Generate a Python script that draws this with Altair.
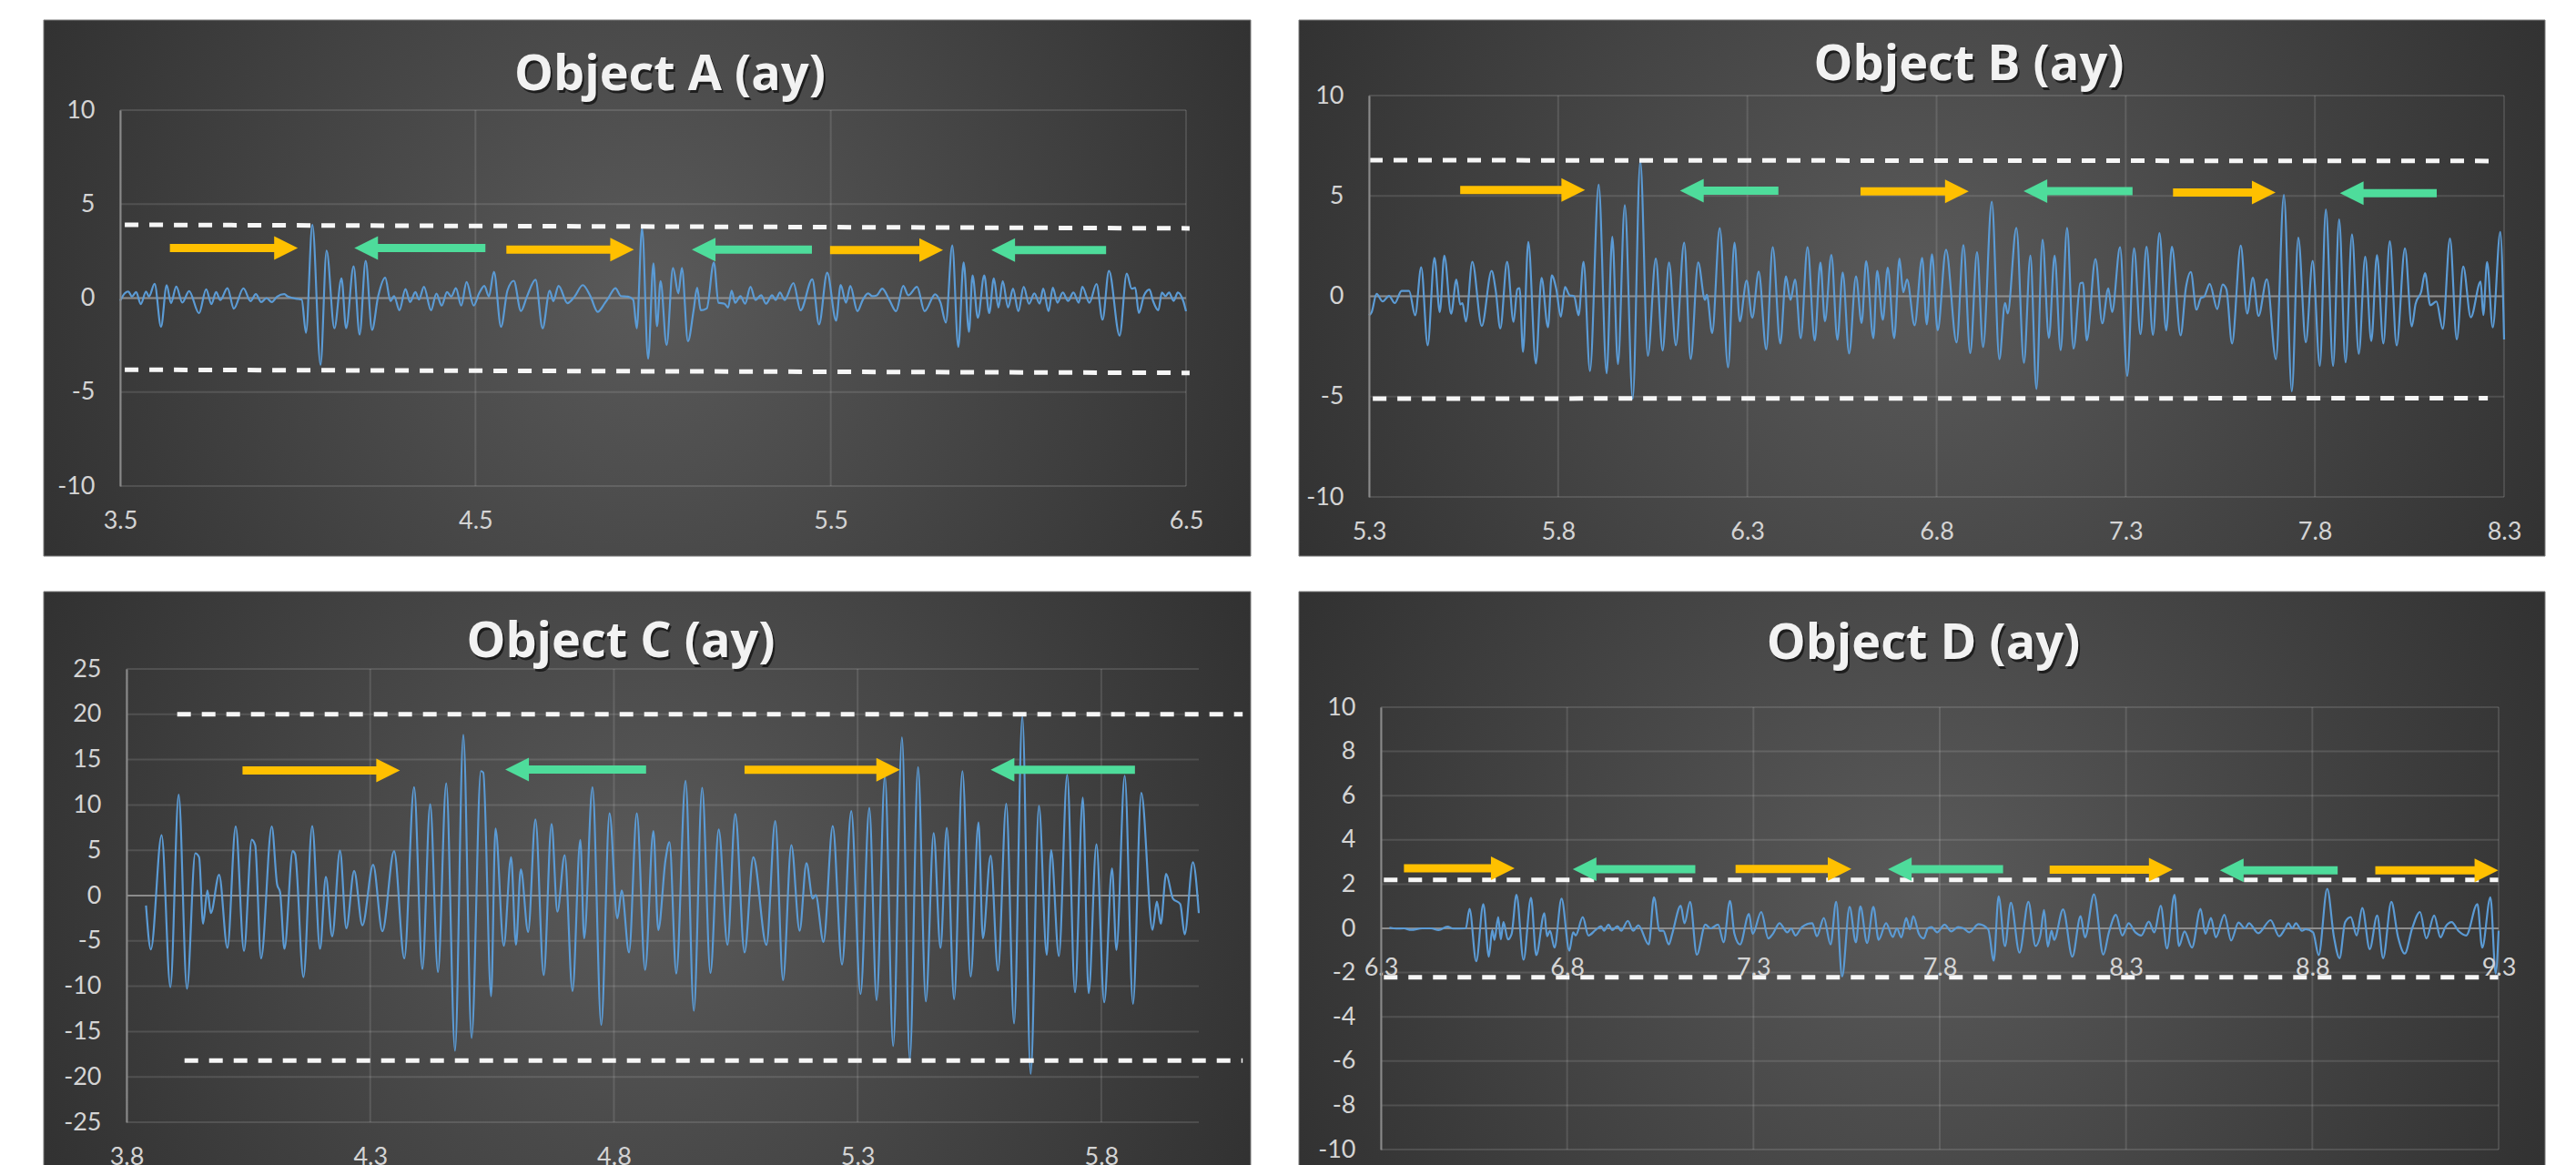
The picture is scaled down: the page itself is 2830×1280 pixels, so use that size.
import altair as alt
import pandas as pd

# ---------------- Object A ----------------
a_t = [3.500,3.513,3.523,3.533,3.545,3.558,3.573,3.581,3.597,3.615,
       3.631,3.643,3.658,3.675,3.694,3.722,3.742,3.757,3.770,3.782,
       3.802,3.820,3.847,3.867,3.882,3.897,3.912,3.927,3.942,3.962,
       3.972,4.001,4.011,4.023,4.041,4.064,4.081,4.103,4.123,4.136,
       4.157,4.174,4.191,4.209,4.226,4.246,4.261,4.271,4.286,4.303,
       4.316,4.331,4.341,4.355,4.375,4.390,4.405,4.420,4.432,4.445,
       4.460,4.475,4.495,4.510,4.525,4.538,4.552,4.572,4.590,4.608,
       4.628,4.645,4.669,4.689,4.709,4.719,4.734,4.759,4.779,4.802,
       4.824,4.844,4.864,4.874,4.894,4.909,4.929,4.944,4.954,4.969,
       4.986,5.001,5.011,
       5.021,5.038,5.056,5.071,5.081,5.098,5.114,5.124,5.134,5.151,
       5.171,5.184,5.201,5.211,5.221,5.231,5.246,5.259,5.274,5.288,
       5.304,5.318,5.335,5.345,5.357,5.370,5.395,5.415,5.448,5.467,
       5.490,5.515,5.528,5.543,5.555,5.575,5.590,5.605,5.617,5.630,
       5.645,5.665,5.684,5.704,5.718,5.743,5.764,5.794,5.809,5.824,
       5.842,5.859,5.874,5.889,5.899,5.914,5.932,5.946,5.959,5.972,
       5.984,5.999,6.013,6.028,6.043,6.058,6.073,6.088,6.098,6.113,
       6.125,6.138,6.153,6.168,6.183,6.198,6.208,6.228,6.248,6.265,
       6.283,6.313,6.333,6.347,6.357,6.367,6.382,6.397,6.407,6.422,
       6.432,6.442,6.452,6.465,6.477,6.492,6.500]
a_ay = [-0.15,0.25,0.35,0.08,0.32,-0.32,0.35,0.08,0.76,-1.53,
        0.69,-0.27,0.61,-0.24,0.37,-0.81,0.47,-0.32,0.32,-0.11,
        0.53,-0.56,0.52,-0.16,0.21,-0.21,0,-0.21,0.08,0.21,
        0.08,-0.05,-0.08,-1.85,3.9,-3.55,2.53,-1.61,1.05,-1.61,
        1.69,-1.94,1.98,-1.69,0.08,1.08,-0.16,0.11,-0.65,0.48,
        -0.21,0.32,-0.08,0.6,-0.65,0.24,-0.4,0.32,0.08,0.53,
        -0.4,0.85,-0.4,0.24,0.65,0.08,1.4,-1.53,0.4,0.92,
        -0.69,0.08,0.97,-1.61,0.4,-0.16,0.65,-0.27,0.08,0.69,
        0.08,-0.73,-0.27,0,0.53,0.11,0.08,-0.08,-1.61,3.71,
        -3.23,1.85,-1.5,
        0.9,-2.5,1.6,0.25,1.6,-2.3,-0.65,0.55,-0.65,-0.55,
        1.9,-0.25,-0.3,-0.5,0.4,-0.25,0.1,-0.3,0.6,-0.1,
        0.15,-0.3,0.15,-0.1,0.3,-0.1,0.8,-0.65,1.0,-1.4,
        1.35,-1.2,0.7,-0.25,0.65,-0.7,-0.1,0.25,0.1,0.15,
        0.5,-0.1,-0.7,0.65,0.15,0.6,-0.7,0.2,-0.25,-1.3,
        2.8,-2.6,1.9,-1.8,1.2,-1.05,1.2,-0.8,1.05,-0.5,
        0.9,-0.5,0.5,-0.7,0.6,-0.3,0.25,-0.3,0.5,-0.7,
        0.55,-0.25,0.3,-0.15,0.3,-0.25,0.6,-0.25,0.75,-1.15,
        1.45,-2.0,1.3,0.5,0.55,-0.8,0.15,0.45,-0.15,-0.65,
        0.3,0.1,0.3,-0.15,0.3,-0.15,-0.7]
a_dash_x1 = [3.513, 3.513]
a_dash_x2 = [6.51, 6.51]
a_dash_y1 = [3.9, -3.81]
a_dash_y2 = [3.71, -3.98]
a_right_tail = [3.64, 4.587, 5.498]
a_right_tip = [4.0, 4.946, 5.816]
a_right_y = [2.66, 2.58, 2.55]
a_left_tail = [4.528, 5.447, 6.275]
a_left_tip = [4.159, 5.109, 5.952]
a_left_y = [2.66, 2.58, 2.55]

# ---------------- Object B ----------------
b_t = [5.300,5.307,5.320,5.336,5.353,5.368,5.386,5.406,5.422,5.438,
       5.455,5.473,5.487,5.499,5.517,5.531,5.541,5.547,5.556,5.573,
       5.598,5.624,5.635,5.647,5.665,5.682,5.692,5.698,5.707,5.721,
       5.741,5.756,5.773,5.783,5.795,5.807,5.818,5.830,5.842,5.854,
       5.867,5.884,5.907,5.928,5.943,5.958,5.976,5.997,6.017,6.037,
       6.058,6.076,6.093,6.111,6.133,6.150,6.170,6.188,6.193,6.207,
       6.227,6.249,6.266,6.280,6.298,6.313,6.330,6.350,6.367,6.387,
       6.402,6.414,6.426,6.441,6.459,6.478,6.493,6.505,6.522,6.538,
       6.552,6.569,6.587,6.602,6.614,6.633,6.643,6.658,6.671,6.688,
       6.702,6.712,6.722,6.742,6.762,6.774,
       6.788,6.803,6.825,6.853,6.871,6.889,6.907,6.923,6.946,6.966,
       6.981,6.988,7.011,7.031,7.048,7.064,7.080,7.097,7.112,7.128,
       7.145,7.162,7.180,7.187,7.197,7.220,7.238,7.254,7.264,7.285,
       7.304,7.322,7.339,7.355,7.372,7.389,7.407,7.422,7.445,7.459,
       7.472,7.487,7.499,7.507,7.522,7.542,7.556,7.566,7.581,7.604,
       7.621,7.636,7.651,7.673,7.697,7.718,7.739,7.756,7.776,7.794,
       7.813,7.829,7.848,7.864,7.881,7.898,7.916,7.933,7.949,7.964,
       7.981,7.998,8.016,8.038,8.056,8.066,8.081,8.091,8.105,8.121,
       8.138,8.157,8.175,8.192,8.212,8.238,8.245,8.255,8.270,8.290,
       8.300]
b_ay = [-0.95,-0.79,0.12,-0.26,0.02,-0.34,0.27,0.27,-0.95,1.45,
        -2.44,1.91,-0.79,2.03,-0.87,0.84,-0.41,-0.34,-1.25,1.72,
        -1.48,1.27,0.27,-1.6,1.72,-1.28,0.35,0.4,-2.77,2.71,
        -3.35,0.91,-1.55,1.04,0.35,-1.02,0.46,0.05,0,-0.95,
        1.72,-3.73,5.56,-3.84,2.97,-3.38,4.54,-5.11,6.75,-2.97,
        1.88,-2.7,1.69,-2.44,2.67,-3.13,1.69,-0.18,0.08,-1.83,
        3.4,-3.54,2.67,-1.25,0.78,-1.07,1.23,-2.65,2.45,-2.35,
        0.99,-0.18,0.84,-2.09,2.45,-2.21,1.69,-1.25,2.06,-2.16,
        1.19,-2.85,0.99,-1.33,1.75,-2.09,1.27,-1.17,1.42,-2.09,
        1.88,0.2,0.84,-1.45,1.91,-1.4,
        2.09,-1.7,2.32,-2.3,2.55,-2.83,2.2,-2.53,4.71,-3.14,
        -0.33,-0.86,3.41,-3.32,2.02,-4.62,2.82,-2.08,2.02,-2.68,
        3.41,-2.61,0.65,0.68,-2.2,1.86,-1.35,0.39,-0.79,2.44,
        -3.97,2.39,-1.89,2.47,-1.92,3.15,-1.7,2.47,-1.95,0.42,
        1.21,-0.67,-0.08,-0.03,0.62,-0.64,0.58,0.35,-2.35,2.52,
        -0.86,0.92,-0.98,0.85,-3.14,5.05,-4.73,2.92,-2.3,1.76,
        -3.47,4.33,-3.47,3.83,-3.29,3.08,-2.86,1.97,-2.23,2.05,
        -2.35,2.74,-2.45,2.39,-1.5,-0.38,0.23,1.15,-0.45,-0.26,
        -1.62,2.88,-2.15,1.48,-1.05,0.73,-0.94,1.71,-1.55,3.2,
        -2.15]
b_dash_x1 = [5.30, 5.31]
b_dash_x2 = [8.278, 8.257]
b_dash_y1 = [6.78, -5.1]
b_dash_y2 = [6.74, -5.08]
b_right_tail = [5.541, 6.599, 7.425]
b_right_tip = [5.871, 6.885, 7.696]
b_right_y = [5.3, 5.23, 5.17]
b_left_tail = [6.382, 7.318, 8.122]
b_left_tip = [6.122, 7.030, 7.866]
b_left_y = [5.26, 5.24, 5.14]

# ---------------- Object C ----------------
c_t = [3.840,3.850,3.872,3.890,3.907,3.924,3.941,3.949,3.957,3.966,
       3.973,3.990,4.007,4.024,4.041,4.057,4.064,4.076,4.098,4.109,
       4.115,4.124,4.141,4.146,4.163,4.181,4.197,4.209,4.222,4.238,
       4.251,4.267,4.284,4.306,4.325,4.349,4.370,4.390,4.407,4.423,
       4.439,4.456,4.474,4.491,4.508,4.527,4.532,4.548,4.557,4.574,
       4.589,4.599,4.609,4.624,4.639,4.656,4.672,4.684,4.699,4.715,
       4.731,4.739,4.756,4.774,4.791,4.807,4.816,4.831,4.847,4.864,
       4.881,4.891,
       4.906,4.914,4.928,4.947,4.964,4.981,4.998,5.015,5.033,5.049,
       5.068,5.086,5.113,5.131,5.147,5.164,5.181,5.195,5.208,5.214,
       5.230,5.249,5.268,5.287,5.306,5.324,5.339,5.356,5.373,5.391,
       5.407,5.424,5.440,5.456,5.470,5.483,5.498,5.515,5.532,5.548,
       5.557,5.573,5.588,5.605,5.621,5.638,5.655,5.672,5.688,5.697,
       5.713,5.730,5.746,5.762,5.774,5.790,5.806,5.822,5.831,5.848,
       5.865,5.882,5.905,5.914,5.922,5.933,5.947,5.962,5.971,5.988,
       6.000]
c_ay = [-1.1,-5.93,6.67,-10.1,11.13,-10.27,4.67,4.23,-3.1,0.57,
        -1.93,2.3,-5.77,7.63,-6.1,6.17,5.57,-6.93,7.63,1.23,
        0.4,-5.87,4.9,4.57,-9.0,7.67,-5.87,2.07,-4.5,4.97,
        -3.6,2.73,-3.27,3.4,-3.93,4.9,-6.93,11.97,-8.1,10.07,
        -8.43,12.4,-17.1,17.73,-15.7,13.73,13.57,-11.1,7.4,-5.53,
        4.23,-5.43,2.9,-4.0,8.4,-8.77,7.9,-1.77,4.47,-10.53,
        6.13,-4.7,11.97,-14.27,9.07,-2.5,0.57,-6.27,9.07,-8.2,
        7.13,-3.8,
        4.0,5.9,-8.6,12.67,-12.7,11.9,-8.53,7.3,-5.43,9.0,
        -6.27,4.23,-5.43,8.23,-9.33,5.57,-3.87,3.57,-0.33,0.07,
        -5.1,7.67,-7.6,9.33,-10.87,9.67,-11.53,13.23,-16.6,17.47,
        -18.1,14.17,-11.67,6.9,-5.77,7.47,-11.43,13.73,-8.93,8.07,
        -4.7,4.4,-8.27,10.13,-14.1,19.8,-19.67,9.9,-6.53,5.0,
        -6.67,13.33,-10.67,10.8,-10.77,5.67,-11.77,3.0,-6.0,13.23,
        -11.93,11.33,-3.77,-0.67,-3.1,2.4,-0.33,-0.93,-4.27,3.67,
        -1.93]
c_dash_x1 = [3.904, 3.919]
c_dash_x2 = [6.09, 6.09]
c_dash_y1 = [20.0, -18.2]
c_dash_y2 = [20.0, -18.2]
c_right_tail = [4.038, 5.068]
c_right_tip = [4.361, 5.387]
c_right_y = [13.8, 13.87]
c_left_tail = [4.866, 5.869]
c_left_tip = [4.577, 5.573]
c_left_y = [13.9, 13.87]

# ---------------- Object D ----------------
d_t = [6.323,6.342,6.362,6.381,6.411,6.435,6.455,6.479,6.494,6.528,
       6.538,6.556,6.575,6.590,6.599,6.605,6.615,6.622,6.629,6.641,
       6.651,6.664,6.683,6.703,6.717,6.739,6.746,6.754,6.766,6.785,
       6.806,6.816,6.823,6.842,6.857,6.876,6.891,6.899,6.911,6.921,
       6.935,6.945,6.963,6.977,6.991,7.019,7.033,7.048,7.058,7.073,
       7.082,7.105,7.115,7.130,7.148,7.171,7.185,7.205,7.220,7.237,
       7.249,7.264,7.288,7.298,7.321,7.340,7.352,7.370,7.391,7.401,
       7.413,7.430,7.458,7.470,7.489,7.507,7.522,7.538,7.558,7.575,
       7.587,7.605,7.622,7.636,7.656,7.674,7.685,7.697,7.710,7.720,
       7.729,7.744,
       7.757,7.768,7.778,7.793,7.813,7.831,7.849,7.864,7.879,7.904,
       7.930,7.945,7.958,7.975,7.991,8.014,8.038,8.057,8.070,8.080,
       8.090,8.100,8.107,8.131,8.156,8.178,8.190,8.214,8.239,8.254,
       8.273,8.290,8.307,8.325,8.341,8.361,8.376,8.393,8.410,8.430,
       8.442,8.457,8.477,8.500,8.513,8.528,8.541,8.564,8.582,8.602,
       8.619,8.630,8.655,8.688,8.711,8.726,8.736,8.746,8.756,8.772,
       8.782,8.802,8.817,8.840,8.858,8.873,8.888,8.903,8.919,8.934,
       8.954,8.974,8.990,9.012,9.030,9.048,9.068,9.089,9.106,9.127,
       9.144,9.157,9.174,9.192,9.213,9.243,9.256,9.278,9.292,9.300]
d_ay = [0.03,-0.01,0,-0.07,0,0,-0.08,0.08,-0.01,0,
        0.88,-1.49,1.1,-1.28,-0.08,-0.52,0.51,-0.5,0.28,-0.5,
        -0.25,1.52,-1.42,1.38,-1.21,0.69,-0.36,-0.11,-0.87,1.34,
        -1.01,-0.18,-0.32,0.51,-0.32,-0.08,0.1,-0.11,0.17,-0.08,
        0.1,-0.11,0.34,-0.11,0.14,-0.73,1.41,-0.11,-0.11,-0.73,
        -0.25,1.02,0.23,1.2,-1.19,0.17,0,0.17,-0.63,1.24,
        -0.25,-0.73,0.65,-0.25,0.74,-0.46,-0.25,0.23,-0.18,-0.01,
        -0.32,0.06,0.23,-0.36,0.47,-0.73,1.2,-2.18,0.97,-0.63,
        0.99,-0.66,0.97,-0.52,0.23,-0.39,0,-0.41,0.47,-0.04,
        0.55,-0.25,
        -0.46,0,0.06,-0.18,0.17,-0.14,0.06,0,-0.18,0.19,
        -0.04,-1.46,1.45,-0.8,1.16,-1.1,1.2,-0.8,-0.32,0.83,
        -0.83,-0.11,-0.52,0.86,-1.28,0.55,-0.41,1.54,-1.19,-0.18,
        0.61,-0.32,0.23,-0.18,-0.32,0.3,-0.18,1.02,-0.91,1.52,
        -0.8,-0.14,-0.87,0.88,-0.25,0.47,-0.41,0.61,-0.55,0.26,
        0,0.23,-0.22,0.37,-0.36,-0.04,0.23,0,0.23,-0.11,
        -0.04,-0.18,-1.21,1.79,-0.39,-1.35,0.28,0.51,-0.32,0.92,
        -0.94,0.58,-1.35,1.2,-0.39,-1.14,0,0.74,-0.46,0.58,
        -0.41,0.06,0.28,-0.11,-0.32,1.1,-0.87,1.41,-2.04,-0.11]
d_dash_x1 = [6.308, 6.308]
d_dash_x2 = [9.299, 9.299]
d_dash_y1 = [2.19, -2.21]
d_dash_y2 = [2.19, -2.21]
d_right_tail = [6.362, 7.252, 8.095, 8.969]
d_right_tip = [6.659, 7.563, 8.425, 9.299]
d_right_y = [2.72, 2.69, 2.65, 2.62]
d_left_tail = [7.144, 7.970, 8.868]
d_left_tip = [6.815, 7.661, 8.552]
d_left_y = [2.68, 2.68, 2.62]

# axis ticks
a_xticks = [3.5, 4.5, 5.5, 6.5]
b_xticks = [5.3, 5.8, 6.3, 6.8, 7.3, 7.8, 8.3]
c_xticks = [3.8, 4.3, 4.8, 5.3, 5.8]
d_xticks = [6.3, 6.8, 7.3, 7.8, 8.3, 8.8, 9.3]
ab_yticks = [-10, -5, 0, 5, 10]
c_yticks = [-25, -20, -15, -10, -5, 0, 5, 10, 15, 20, 25]
d_yticks = [-10, -8, -6, -4, -2, 0, 2, 4, 6, 8, 10]

LINE_BLUE = "#5B9BD5"
YELLOW = "#FFC000"
GREEN = "#4EDC9B"
LABEL = "#d4d4d4"
FONT = "Lato"
TITLE_FONT = "Open Sans"
LABEL_SIZE = 27

GRAD = alt.RadialGradient(
    gradient="radial", x1=0.5, y1=0.5, r1=0, x2=0.5, y2=0.5, r2=0.72,
    stops=[alt.GradientStop(color="#5a5a5a", offset=0),
           alt.GradientStop(color="#252525", offset=1)])

# every panel's group origin sits this far inside its dark box, so the
# concat layout lines the boxes up; the plot area is placed with scale ranges
OL, OT = 90, 100


def panel(title, t, ay, xdom, ydom, xticks, yticks, dash, right, left,
          box, plot, tpos, x_at_zero=False):
    ox, oy = box[0] + OL, box[1] + OT
    xr = [plot[0] - ox, plot[2] - ox]
    yr = [plot[3] - oy, plot[1] - oy]
    W, H = xr[1], yr[0]
    if x_at_zero:
        y0 = yr[0] + (yr[1] - yr[0]) * (0 - ydom[0]) / (ydom[1] - ydom[0])
        xoff = y0 - H
    else:
        xoff = 0
    xs = alt.Scale(domain=xdom, range=xr, nice=False, zero=False)
    ys = alt.Scale(domain=ydom, range=yr, nice=False, zero=False)
    xa = alt.Axis(values=xticks, title=None, grid=False, domain=False, ticks=False,
                  tickSize=0, labelExpr="'' + datum.value", labelFont=FONT,
                  labelFontSize=LABEL_SIZE, labelColor=LABEL, labelFlush=False,
                  labelOverlap=False, labelPadding=30 if x_at_zero else 25,
                  offset=xoff, zindex=1)
    ya = alt.Axis(values=yticks, title=None, grid=False, domain=True,
                  domainColor="#8a8a8a", domainWidth=2, ticks=False, tickSize=0,
                  labelExpr="'' + datum.value", labelFont=FONT,
                  labelFontSize=LABEL_SIZE, labelColor=LABEL, labelPadding=28,
                  labelOverlap=False, offset=-xr[0], zindex=1)

    def X(f):
        return alt.X(f, scale=xs, axis=xa)

    def Y(f):
        return alt.Y(f, scale=ys, axis=ya)

    one = pd.DataFrame({"k": [0]})
    bg = alt.Chart(one).mark_rect(fill=GRAD, stroke="#7a7a7a", strokeWidth=1).encode(
        x=alt.value(-OL), x2=alt.value(box[2] - ox),
        y=alt.value(-OT), y2=alt.value(box[3] - oy))

    hg = pd.DataFrame({"v": yticks, "a": xdom[0], "b": xdom[1]})
    vg = pd.DataFrame({"v": xticks, "a": ydom[0], "b": ydom[1]})
    hgrid = alt.Chart(hg).mark_rule(color="#ffffff", opacity=0.12, strokeWidth=2).encode(
        y=Y("v:Q"), x=X("a:Q"), x2="b:Q")
    vgrid = alt.Chart(vg).mark_rule(color="#ffffff", opacity=0.12, strokeWidth=2).encode(
        x=X("v:Q"), y=Y("a:Q"), y2="b:Q")
    zd = pd.DataFrame({"v": [0], "a": [xdom[0]], "b": [xdom[1]]})
    zero = alt.Chart(zd).mark_rule(color="#8c8c8c", strokeWidth=2).encode(
        y=Y("v:Q"), x=X("a:Q"), x2="b:Q")

    df = pd.DataFrame({"t": t, "ay": ay})
    line = alt.Chart(df).mark_line(interpolate="monotone", color=LINE_BLUE,
                                   strokeWidth=2.2).encode(x=X("t:Q"), y=Y("ay:Q"))

    dd = pd.DataFrame({"x1": dash[0], "x2": dash[1], "y1": dash[2], "y2": dash[3]})
    dashes = alt.Chart(dd).mark_rule(color="#f6f6f6", strokeWidth=5,
                                     strokeDash=[15, 12]).encode(
        x=X("x1:Q"), x2="x2:Q", y=Y("y1:Q"), y2="y2:Q")

    rd = pd.DataFrame({"tail": right[0], "tip": right[1], "y": right[2]})
    ld = pd.DataFrame({"tail": left[0], "tip": left[1], "y": left[2]})
    r_shaft = alt.Chart(rd).mark_rule(color=YELLOW, strokeWidth=9, x2Offset=-20).encode(
        x=X("tail:Q"), x2="tip:Q", y=Y("y:Q"))
    r_head = alt.Chart(rd).mark_point(shape="M0,0L-1,-0.5L-1,0.5Z", filled=True,
                                      size=2704, color=YELLOW, opacity=1,
                                      strokeWidth=0).encode(x=X("tip:Q"), y=Y("y:Q"))
    l_shaft = alt.Chart(ld).mark_rule(color=GREEN, strokeWidth=9, x2Offset=20).encode(
        x=X("tail:Q"), x2="tip:Q", y=Y("y:Q"))
    l_head = alt.Chart(ld).mark_point(shape="M0,0L1,-0.5L1,0.5Z", filled=True,
                                      size=2704, color=GREEN, opacity=1,
                                      strokeWidth=0).encode(x=X("tip:Q"), y=Y("y:Q"))

    td = pd.DataFrame({"s": [title]})
    tx, ty = tpos[0] - ox, tpos[1] - oy
    tshadow = alt.Chart(td).mark_text(font=TITLE_FONT, fontWeight="bold", fontSize=54,
                                      color="#000000", opacity=0.6, dx=2, dy=3,
                                      align="center", baseline="middle").encode(
        x=alt.value(tx), y=alt.value(ty), text="s:N")
    ttext = alt.Chart(td).mark_text(font=TITLE_FONT, fontWeight="bold", fontSize=54,
                                    color="#f2f2f2", align="center",
                                    baseline="middle").encode(
        x=alt.value(tx), y=alt.value(ty), text="s:N")

    return alt.layer(bg, hgrid, vgrid, zero, line, dashes, r_shaft, r_head,
                     l_shaft, l_head, tshadow, ttext).properties(width=W, height=H)


# page positions (px): dark box (x0, y0, x1, y1), plot area (x0, y0, x1, y1), title centre
pa = panel("Object A (ay)", a_t, a_ay, [3.5, 6.5], [-10, 10], a_xticks, ab_yticks,
           (a_dash_x1, a_dash_x2, a_dash_y1, a_dash_y2),
           (a_right_tail, a_right_tip, a_right_y), (a_left_tail, a_left_tip, a_left_y),
           (47, 21, 1373, 610), (131, 120, 1302, 533), (735, 82))
pb = panel("Object B (ay)", b_t, b_ay, [5.3, 8.3], [-10, 10], b_xticks, ab_yticks,
           (b_dash_x1, b_dash_x2, b_dash_y1, b_dash_y2),
           (b_right_tail, b_right_tip, b_right_y), (b_left_tail, b_left_tip, b_left_y),
           (1424, 21, 2793, 610), (1501, 104, 2748, 545), (2160, 71))
pc = panel("Object C (ay)", c_t, c_ay, [3.8, 6.0], [-25, 25], c_xticks, c_yticks,
           (c_dash_x1, c_dash_x2, c_dash_y1, c_dash_y2),
           (c_right_tail, c_right_tip, c_right_y), (c_left_tail, c_left_tip, c_left_y),
           (47, 647, 1373, 1300), (138, 732, 1316, 1230), (681, 703))
pd_ = panel("Object D (ay)", d_t, d_ay, [6.3, 9.3], [-10, 10], d_xticks, d_yticks,
            (d_dash_x1, d_dash_x2, d_dash_y1, d_dash_y2),
            (d_right_tail, d_right_tip, d_right_y), (d_left_tail, d_left_tip, d_left_y),
            (1424, 647, 2793, 1300), (1514, 774, 2742, 1260), (2110, 705),
            x_at_zero=True)

chart = alt.hconcat(
    alt.vconcat(pa, pc, spacing=37),
    alt.vconcat(pb, pd_, spacing=37),
    spacing=51,
).properties(
    padding={"left": 39, "top": 13, "right": 0, "bottom": 0},
    background="#ffffff",
).configure_view(stroke=None)

chart.save("out.html", embed_options={"renderer": "svg", "actions": False})
